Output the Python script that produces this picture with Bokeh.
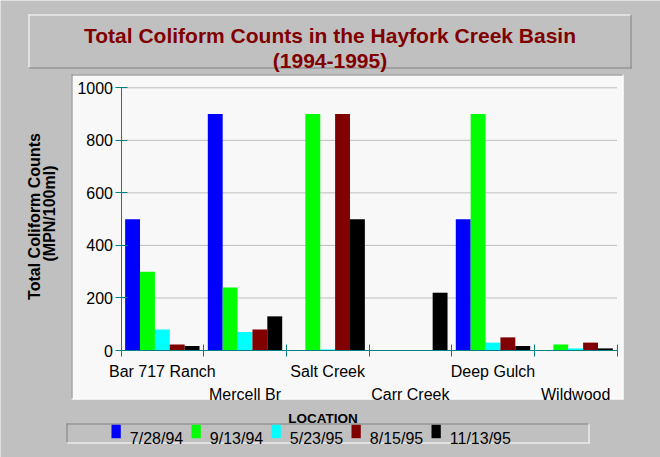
import math
from bokeh.plotting import figure
from bokeh.models import ColumnDataSource, FixedTicker, Label, BoxAnnotation, Range1d
from bokeh.embed import file_html
from bokeh.resources import INLINE

# ---- data ----
locations = ["Bar 717 Ranch", "Mercell Br", "Salt Creek", "Carr Creek", "Deep Gulch", "Wildwood"]
dates = ["7/28/94", "9/13/94", "5/23/95", "8/15/95", "11/13/95"]
v_072894 = [500, 900, 0, 0, 500, 0]
v_091394 = [300, 240, 900, 0, 900, 23]
v_052395 = [80, 70, 4, 0, 30, 8]
v_081595 = [23, 80, 900, 0, 50, 30]
v_111395 = [17, 130, 500, 220, 17, 8]
series = [v_072894, v_091394, v_052395, v_081595, v_111395]
colors = ["#0000ff", "#00ff00", "#00ffff", "#800000", "#000000"]
y_ticks = [0, 200, 400, 600, 800, 1000]
y_max = 1000

FONT = "Liberation Sans"
W, H = 660, 457
BG = "#c0c0c0"
PANEL = "#f8f8f8"
TEAL = "#008080"
DARK = "#808080"

# plot area placement (pixels) -> the frame spans the whole canvas
AX_L, AX_R, AX_T, AX_B = 120.5, 616.5, 87.3, 350.0
nloc = len(locations)
UX = (AX_R - AX_L) / nloc          # px per x unit
UY = (AX_B - AX_T) / y_max         # px per y unit

def dx(px):
    return (px - AX_L) / UX

def dy(py):
    return (AX_B - py) / UY

p = figure(width=W, height=H, output_backend="svg", toolbar_location=None,
           x_range=Range1d(dx(0), dx(W)), y_range=Range1d(dy(H), dy(0)),
           min_border=0, min_border_left=0, min_border_right=0,
           min_border_top=0, min_border_bottom=0,
           background_fill_color=BG, border_fill_color=BG, outline_line_color=None)

def pbox(l, r, t, b, fill, level="image"):
    p.add_layout(BoxAnnotation(left=dx(l), right=dx(r), top=dy(t), bottom=dy(b),
                               fill_color=fill, fill_alpha=1, line_color=None, level=level))

def bevel(l, r, t, b, fill, tl, br):
    pbox(l, r, t, b, fill)
    pbox(l, r, t, t + 1, tl)
    pbox(l, l + 1, t, b, tl)
    pbox(l, r, b - 1, b, br)
    pbox(r - 1, r, t, b, br)

def plabel(x, y, text, size, bold=False, color="black", align="left", base="alphabetic",
           angle=0, data_x=False):
    p.add_layout(Label(x=x if data_x else dx(x), y=dy(y), text=text,
                       text_font=FONT, text_font_size=f"{size}px",
                       text_font_style="bold" if bold else "normal",
                       text_color=color, text_align=align, text_baseline=base, angle=angle))

# title box
bevel(28, 631, 14, 68, BG, "#ffffff", DARK)
plabel(329.5, 35, "Total Coliform Counts in the Hayfork Creek Basin", 21, True, "#800000", "center")
plabel(329.5, 60, "(1994-1995)", 21, True, "#800000", "center")

# chart panel
bevel(71, 623, 74, 399, PANEL, DARK, "#ffffff")

# horizontal grid lines (only across the plot area)
p.segment(x0=[0] * len(y_ticks), x1=[nloc] * len(y_ticks), y0=y_ticks, y1=y_ticks,
          line_color="#bdbdbd", line_width=1)
p.grid.visible = False

# bars
n = len(series)
bw = 0.18
for j, (vals, col) in enumerate(zip(series, colors)):
    xs = [i + 0.5 + (j - (n - 1) / 2) * bw for i in range(nloc)]
    src = ColumnDataSource(dict(x=xs, top=vals))
    p.vbar(x="x", top="top", bottom=0, width=bw, source=src,
           fill_color=col, line_color=None)

# axes at fixed locations inside the frame
ya = p.yaxis[0]
ya.fixed_location = 0
ya.bounds = (0, y_max)
ya.ticker = FixedTicker(ticks=y_ticks)
ya.axis_line_color = TEAL
ya.major_tick_line_color = TEAL
ya.major_tick_in = 6
ya.major_tick_out = 6
ya.minor_tick_line_color = None
ya.major_label_text_font = FONT
ya.major_label_text_font_size = "16px"
ya.major_label_text_color = "black"
ya.major_label_standoff = 2

xa = p.xaxis[0]
xa.fixed_location = 0
xa.bounds = (0, nloc)
xa.ticker = FixedTicker(ticks=list(range(nloc + 1)))
xa.major_label_overrides = {i: "" for i in range(nloc + 1)}
xa.axis_line_color = TEAL
xa.major_tick_line_color = TEAL
xa.major_tick_in = 6
xa.major_tick_out = 6
xa.minor_tick_line_color = None

# staggered location labels
for i, loc in enumerate(locations):
    plabel(i + 0.5, 371 if i % 2 == 0 else 394, loc, 16, align="center", data_x=True)

# y axis title
plabel(33.5, 216, "Total Coliform Counts", 16, True, align="center", base="middle", angle=math.pi / 2)
plabel(48.5, 213, "(MPN/100ml)", 16, True, align="center", base="middle", angle=math.pi / 2)

# x axis title
plabel(322.5, 417.7, "LOCATION", 13.5, True, align="center")

# legend
bevel(66, 589, 423, 443, BG, DARK, "#ffffff")
for j, (d, col) in enumerate(zip(dates, colors)):
    x0 = 111 + 80 * j
    pbox(x0, x0 + 9.3, 424.3, 437.7, col)
    plabel(x0 + 18.3, 438.3, d, 16)

open("out.html", "w").write(file_html(p, INLINE))
